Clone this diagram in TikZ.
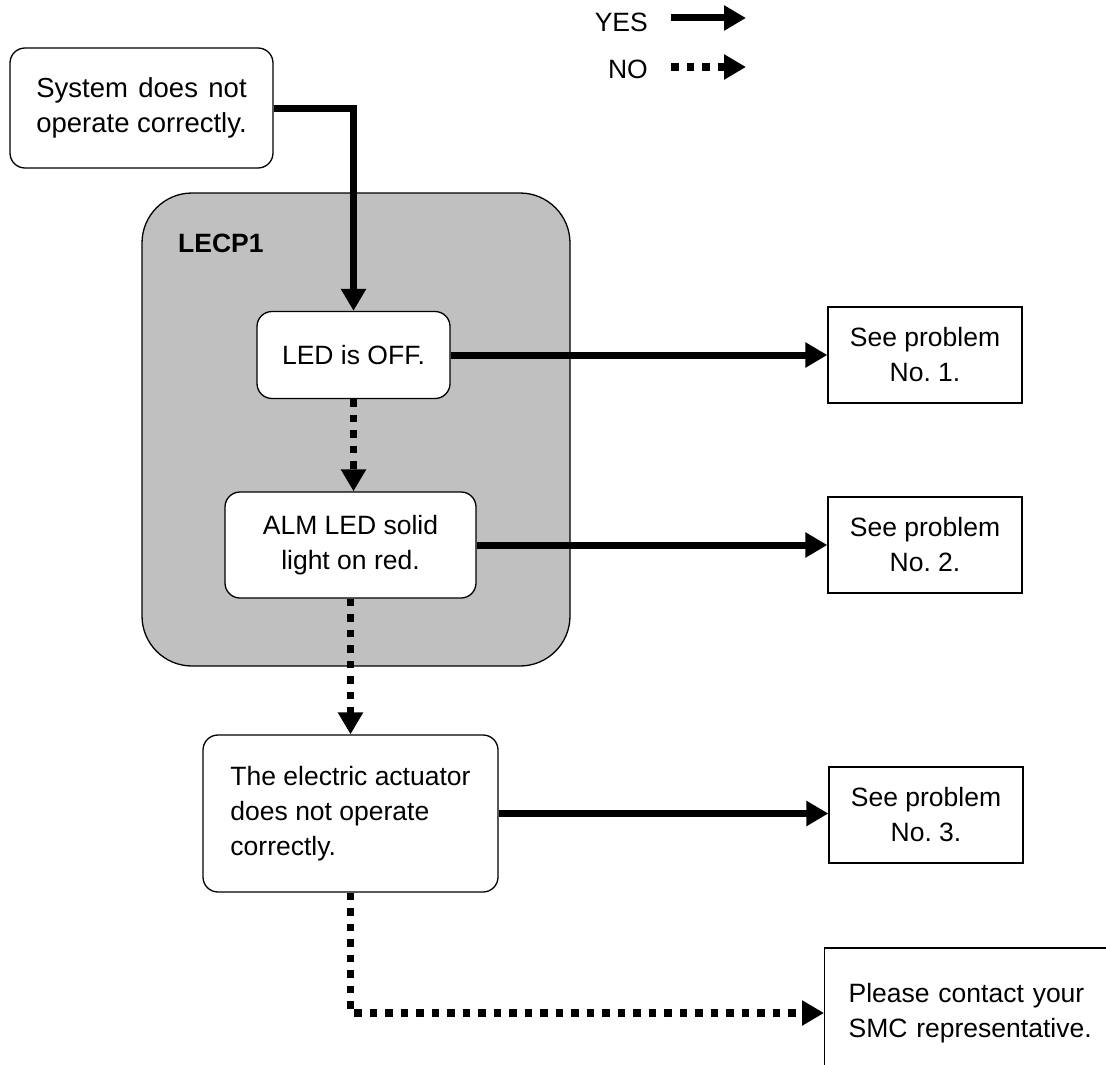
\documentclass[tikz,border=0pt]{standalone}
\usepackage{fontspec}
\setmainfont{Liberation Sans}
\usetikzlibrary{arrows.meta}
\newsavebox\opbox
\definecolor{lecpgray}{HTML}{C0C0C0}
\frenchspacing
\begin{document}
\frenchspacing
\begin{tikzpicture}[x=1pt,y=-1pt,
  txt/.style={font=\fontsize{26.5}{35}\selectfont},
  rbox/.style={draw, line width=1.3pt, rounded corners=15pt, fill=white, inner sep=0pt, txt},
  sqbox/.style={draw, line width=1.3pt, fill=white, inner sep=0pt, txt, align=center},
  yesarrow/.style={line width=7pt, -{Triangle[length=22pt,width=24pt]}},
  noarrow/.style={line width=7.5pt, dash pattern=on 7.5pt off 8pt, -{Triangle[length=22pt,width=24pt]}}]
\useasboundingbox (0,0) rectangle (1106,1065);
\clip (0,0) rectangle (1106,1065);
% LECP1 region
\node[draw, line width=1.3pt, fill=lecpgray, rounded corners=50pt, minimum width=428pt, minimum height=473pt] (lecp) at (356,429.5) {};
\node[font=\bfseries\fontsize{26.5}{35}\selectfont, anchor=west, inner sep=0pt] (lecplabel) at (178,243) {LECP1};
% boxes
\node[rbox, minimum width=263pt, minimum height=120pt, align=left, font=\fontsize{27.5}{35}\selectfont] (sys) at (141.5,108)
  {\global\setbox\opbox\hbox{operate correctly.}\makebox[\wd\opbox][s]{System does not}\\operate correctly.};
\node[rbox, minimum width=193pt, minimum height=87pt, align=center] (led) at (353.5,355) {LED is OFF.};
\node[rbox, minimum width=251pt, minimum height=106pt, align=center] (alm) at (350.5,545) {ALM LED solid\\light on red.};
\node[rbox, minimum width=295pt, minimum height=157pt, align=left] (act) at (350.5,813.5) {The electric actuator\\does not operate\\correctly.};
\node[sqbox, minimum width=194pt, minimum height=96pt] (p1) at (925,355) {See problem\\No. 1.};
\node[sqbox, minimum width=194pt, minimum height=96pt] (p2) at (925,545) {See problem\\No. 2.};
\node[sqbox, minimum width=194pt, minimum height=96pt] (p3) at (926,815) {See problem\\No. 3.};
\node[draw, line width=1.3pt, txt, text width=260pt, align=left, inner xsep=24pt, inner ysep=0pt, minimum height=130pt, anchor=west] (contact) at (824,1013) {Please contact your\\SMC representative.};
% legend
\node[txt, anchor=east, inner sep=0pt] (yes) at (648,22) {YES};
\node[txt, anchor=east, inner sep=0pt] (no) at (648,69) {NO};
\coordinate (yesA) at (671,18);
\coordinate (yesB) at (746,18);
\coordinate (noA) at (671,67);
\coordinate (noB) at (746,67);
\draw[yesarrow] (yesA) -- (yesB);
\draw[noarrow] (noA) -- (noB);
% connectors
\draw[yesarrow] (sys.east) -| (led.north);
\draw[noarrow] (led.south) -- (led.south |- alm.north);
\draw[yesarrow] (led.east) -- (p1.west);
\draw[yesarrow] (alm.east) -- (p2.west);
\draw[noarrow] (alm.south) -- (alm.south |- act.north);
\draw[yesarrow] (act.east) -- (act.east -| p3.west);
\draw[noarrow] (act.south) |- (contact.west);
\end{tikzpicture}
\end{document}
